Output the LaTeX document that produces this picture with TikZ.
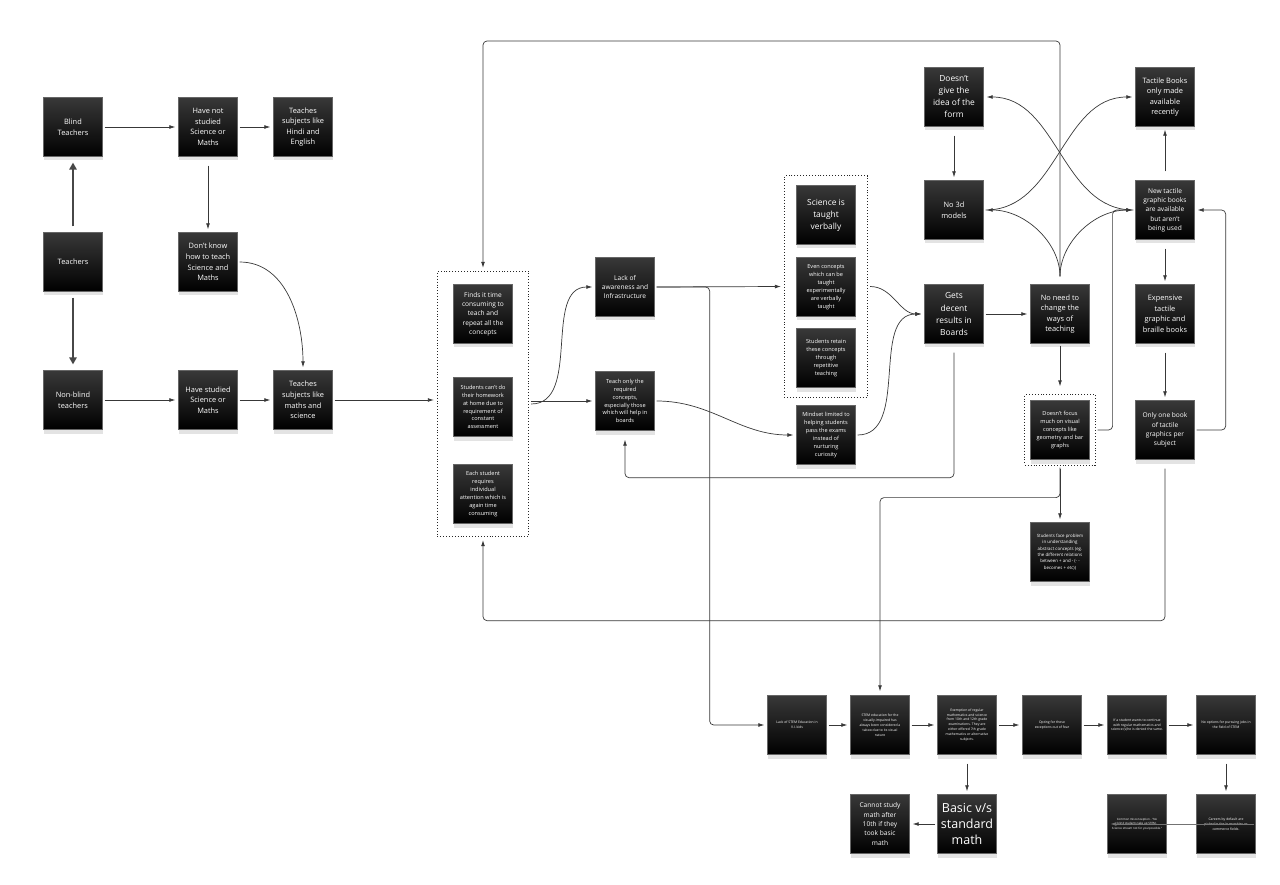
\documentclass[tikz,border=0pt]{standalone}
\usepackage{fontspec}
\setmainfont{Open Sans}
\usetikzlibrary{positioning,fit,arrows.meta,calc,shadows}

\begin{document}
\begin{tikzpicture}[x=1pt, y=-1pt,
    note/.style={draw=black!60, line width=0.3pt, top color=black!78, bottom color=black, text=white, align=center,
                 minimum width=59pt, minimum height=59pt, inner sep=1pt,
                 drop shadow={shadow xshift=0pt, shadow yshift=-4pt, opacity=0.22}},
    hugetext/.style={font=\fontsize{12.5}{16}\selectfont},
    bigtext/.style={font=\fontsize{8.4}{12}\selectfont},
    midtext/.style={font=\fontsize{7.4}{10.6}\selectfont},
    smalltext/.style={font=\fontsize{6.6}{9.3}\selectfont},
    minitext/.style={font=\fontsize{5.6}{7.9}\selectfont},
    microtext/.style={font=\fontsize{4.4}{6.3}\selectfont},
    nanotext/.style={font=\fontsize{3.4}{4.9}\selectfont},
    grp/.style={draw=black!85, dotted, line width=0.9pt},
    arr/.style={-{Latex[length=6pt,width=3.8pt]}, draw=black!78, line width=0.7pt, shorten >=3pt, shorten <=2pt},
    bigarr/.style={-{Triangle[length=7pt,width=7.5pt]}, draw=black!72, line width=1.5pt, shorten >=6pt, shorten <=6pt},
    elbow/.style={arr, rounded corners=4pt}
]
\useasboundingbox (0,0) rectangle (1280,885);

\node[note, midtext] (bt) at (73,127) {Blind\\Teachers};
\node[note, midtext] (hns) at (208,127) {Have not\\studied\\Science or\\Maths};
\node[note, midtext] (the) at (303,127) {Teaches\\subjects like\\Hindi and\\English};
\node[note, midtext] (tea) at (73,262) {Teachers};
\node[note, midtext] (dk) at (208,262) {Don't know\\how to teach\\Science and\\Maths};
\node[note, midtext] (nb) at (73,400) {Non-blind\\teachers};
\node[note, midtext] (hs) at (208,400) {Have studied\\Science or\\Maths};
\node[note, midtext] (tms) at (303,400) {Teaches\\subjects like\\maths and\\science};

\node[note, smalltext] (fin) at (483,314) {Finds it time\\consuming to\\teach and\\repeat all the\\concepts};
\node[note, minitext] (hw) at (483,407) {Students can't do\\their homework\\at home due to\\requirement of\\constant\\assessment};
\node[note, minitext] (each) at (483,494) {Each student\\requires\\individual\\attention which is\\again time\\consuming};
\node[grp, fit=(fin)(hw)(each), inner xsep=16pt, inner ysep=13pt] (g1) {};

\node[note, smalltext] (lack) at (625,287) {Lack of\\awareness and\\Infrastructure};
\node[note, minitext] (teach) at (625,401) {Teach only the\\required\\concepts,\\especially those\\which will help in\\boards};

\node[note, bigtext] (sci) at (826,215) {Science is\\taught\\verbally};
\node[note, minitext] (even) at (826,287) {Even concepts\\which can be\\taught\\experimentally\\are verbally\\taught};
\node[note, minitext] (ret) at (826,358) {Students retain\\these concepts\\through\\repetitive\\teaching};
\node[grp, fit=(sci)(even)(ret), inner xsep=12pt, inner ysep=9.5pt] (g2) {};
\node[note, minitext] (mind) at (826,435) {Mindset limited to\\helping students\\pass the exams\\instead of\\nurturing\\curiosity};

\node[note, bigtext] (dgi) at (954,97) {Doesn't\\give the\\idea of the\\form};
\node[note, midtext] (n3d) at (954,210) {No 3d\\models};
\node[note, midtext] (tbo) at (1165,97) {Tactile Books\\only made\\available\\recently};
\node[note, smalltext] (newt) at (1165,210) {New tactile\\graphic books\\are available\\but aren't\\being used};
\node[note, bigtext] (gets) at (954,314) {Gets\\decent\\results in\\Boards};
\node[note, midtext] (noneed) at (1060,314) {No need to\\change the\\ways of\\teaching};
\node[note, midtext] (exp) at (1165,314) {Expensive\\tactile\\graphic and\\braille books};
\node[note, minitext] (dnf) at (1060,430) {Doesn't focus\\much on visual\\concepts like\\geometry and bar\\graphs};
\node[grp, fit=(dnf), inner sep=5.5pt] (g3) {};
\node[note, smalltext] (one) at (1165,430) {Only one book\\of tactile\\graphics per\\subject};
\node[note, microtext] (sfp) at (1060,552) {Students face problem\\in understanding\\abstract concepts (eg.\\the different relations\\between + and - (- -\\becomes + etc))};

\node[note, nanotext] (stem1) at (797,725) {Lack of STEM Education in\\V.I. kids};
\node[note, nanotext] (stem2) at (880,725) {STEM education for the\\visually-impaired has\\always been considered a\\taboo due to its visual\\nature};
\node[note, nanotext] (exm) at (967,725) {Exemption of regular\\mathematics and science\\from 10th and 12th grade\\examinations. They are\\either offered 7th grade\\mathematics or alternative\\subjects.};
\node[note, nanotext] (opt) at (1052,725) {Opting for these\\exceptions out of fear};
\node[note, nanotext] (ifs) at (1137,725) {If a student wants to continue\\with regular mathematics and\\science (s)he is denied the same.};
\node[note, nanotext] (nop) at (1226,725) {No options for pursuing jobs in\\the field of STEM};
\node[note, hugetext] (basic) at (967,824) {Basic v/s\\standard\\math};
\node[note, smalltext] (cant) at (880,824) {Cannot study\\math after\\10th if they\\took basic\\math};
\node[note, nanotext] (car) at (1226,824) {Careers by default are\\picked in the humanities or\\commerce fields.};
\node[note, font=\fontsize{2.9}{4.6}\selectfont] (com) at (1137,824) {Common misconception - "No\\blind students take up STEM.\\Science stream not for you/possible."};

\coordinate (top) at (700,41);

\draw[bigarr] (tea) -- (bt);
\draw[bigarr] (tea) -- (nb);
\draw[arr] (bt) -- (hns);
\draw[arr] (hns) -- (the);
\draw[arr, shorten <=9pt] (hns) -- (dk);
\draw[arr] (nb) -- (hs);
\draw[arr] (hs) -- (tms);
\draw[arr] (dk.east) to[out=0, in=90] (tms.north);
\draw[arr] (tms.east) -- (tms.east -| g1.west);

\draw[arr] (g1.east) to[out=0, in=180] (lack.west);
\draw[arr] (g1.east |- teach.west) -- (teach.west);
\draw[arr] (lack.east) -- (g2.west);
\draw[elbow] (lack.east) -- ++(55,0) |- (stem1.west);
\draw[arr] (teach.east) to[out=0, in=180] (mind.west);
\draw[arr] (g2.east) to[out=0, in=180] (gets.west);
\draw[arr] (mind.east) to[out=0, in=180] (gets.west);
\draw[arr] (gets) -- (noneed);
\draw[elbow, shorten <=9pt, shorten >=9pt] (gets.south) -- ++(0,134) -| (teach.south);

\draw[elbow, shorten <=8pt] (noneed.north) -- (noneed.north |- top) -| (g1.north);
\draw[arr, shorten <=8pt] (noneed.north) to[out=90, in=0] (n3d.east);
\draw[arr, shorten <=8pt] (noneed.north) to[out=90, in=180] (newt.west);
\draw[arr] (newt.west) to[out=180, in=0] (dgi.east);
\draw[arr] (n3d.east) to[out=0, in=180] (tbo.west);
\draw[arr, shorten <=9pt] (dgi) -- (n3d);
\draw[arr, shorten <=9pt] (newt) -- (tbo);
\draw[arr, shorten <=9pt] (newt) -- (exp);
\draw[arr, shorten <=9pt] (exp) -- (one);
\draw[elbow] (one.east) -- ++(31,0) |- (newt.east);
\draw[elbow] (g3.east) -- ++(17,0) |- (newt.west);
\draw[arr, shorten >=8pt] (noneed) -- (g3);
\draw[arr, shorten <=3pt] (g3) -- (sfp);
\draw[elbow, shorten >=4pt] (g3.south) -- ++(0,32) -| (stem2.north);
\draw[elbow, shorten <=9pt] (one.south) -- ++(0,161) -| (g1.south);

\draw[arr] (stem1) -- (stem2);
\draw[arr] (stem2) -- (exm);
\draw[arr] (exm) -- (opt);
\draw[arr] (opt) -- (ifs);
\draw[arr] (ifs) -- (nop);
\draw[arr, shorten <=9pt] (nop) -- (car);
\draw[arr, shorten <=9pt] (exm) -- (basic);
\draw[arr] (basic) -- (cant);
\draw[arr, draw=black!55] (car.east) -- (com.west);
\end{tikzpicture}
\end{document}
